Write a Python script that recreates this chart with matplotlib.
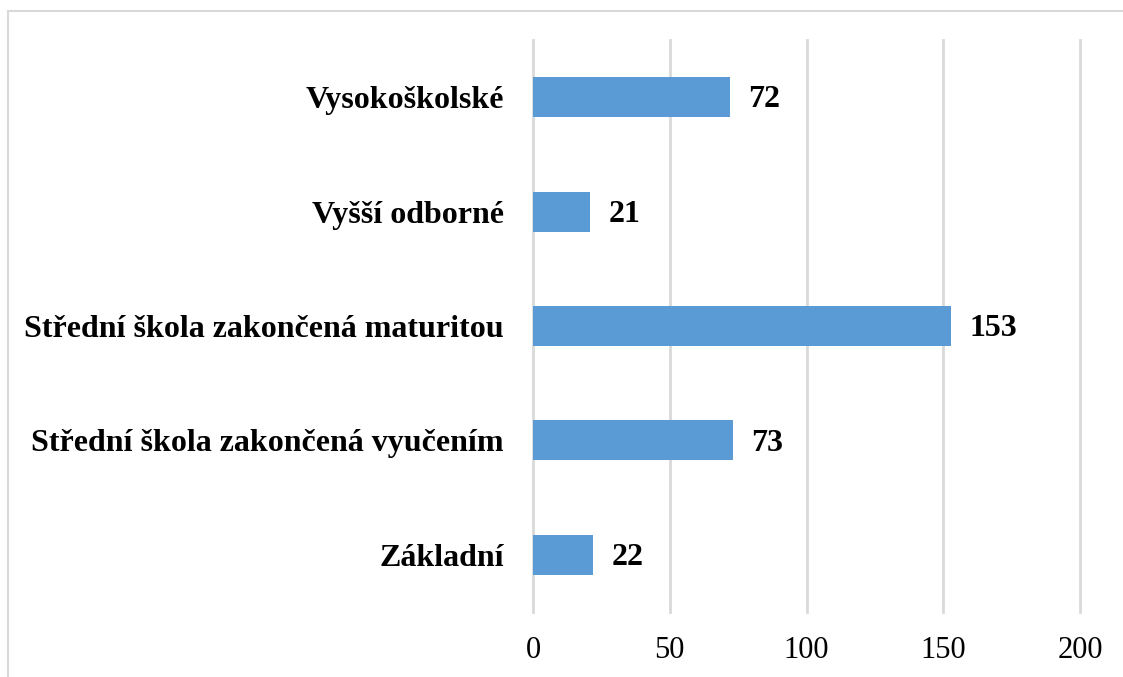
import matplotlib
matplotlib.use("Agg")
import matplotlib.pyplot as plt
from matplotlib.patches import Rectangle

categories = ["Základní", "Střední škola zakončená vyučením",
              "Střední škola zakončená maturitou", "Vyšší odborné", "Vysokoškolské"]
values = [22, 73, 153, 21, 72]
xticks = [0, 50, 100, 150, 200]

plt.rcParams['font.family'] = ['Liberation Serif', 'DejaVu Serif']

W, H = 1123, 677
fig = plt.figure(figsize=(W / 100, H / 100), dpi=100)
ax = fig.add_axes([533 / W, 1 - 612 / H, (1080 - 533) / W, (612 - 40) / H])

bar_color = "#5B9BD5"
ypos = list(range(len(categories)))
bars = ax.barh(ypos, values, height=0.35, color=bar_color, zorder=3)

ax.set_xlim(0, 200)
ax.set_ylim(-0.5, len(categories) - 0.5)
ax.set_xticks(xticks)
ax.set_xticklabels([str(t) for t in xticks], fontsize=22)
ax.set_yticks(ypos)
ax.set_yticklabels(categories, fontsize=23, fontweight='bold')
ax.tick_params(axis='both', length=0)
ax.tick_params(axis='x', pad=17)
ax.tick_params(axis='y', pad=21)
ax.grid(axis='x', color='#D9D9D9', linewidth=2, zorder=0)
for gl in ax.get_xgridlines():
    gl.set_clip_on(False)
for s in ax.spines.values():
    s.set_visible(False)

for y, v in zip(ypos, values):
    ax.annotate(str(v), (v, y), xytext=(13, -2), textcoords='offset points',
                va='center', ha='left', fontsize=23, fontweight='bold')

fig.patches.append(Rectangle((8 / W, -0.1), 1.2, 1 - 11 / H + 0.1,
                             transform=fig.transFigure, fill=False,
                             edgecolor='#D9D9D9', linewidth=1.5))

fig.savefig("out.png", dpi=100)
